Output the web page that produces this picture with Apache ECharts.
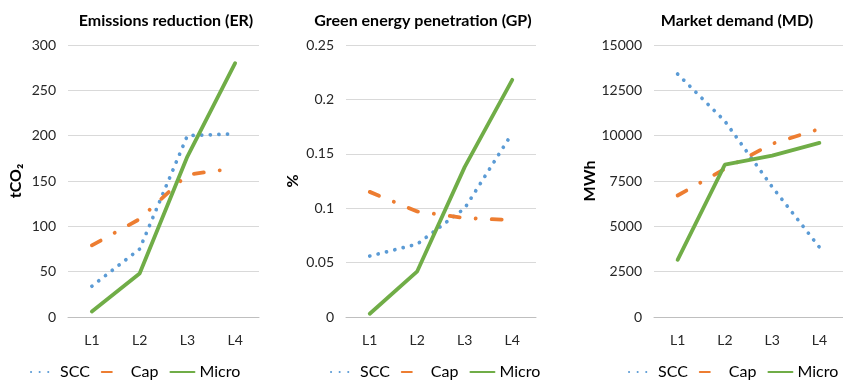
<!DOCTYPE html>
<html>
<head>
<meta charset="utf-8">
<script src="https://cdn.jsdelivr.net/npm/echarts@6/dist/echarts.min.js"></script>
<style>
html,body{margin:0;padding:0;background:#fff;}
#c{width:843px;height:385px;}
</style>
</head>
<body>
<div id="c"></div>
<script>
var categories = ['L1', 'L2', 'L3', 'L4'];
var seriesNames = ['SCC', 'Cap', 'Micro'];

var erSCC = [34, 75, 200, 202];
var erCap = [79, 108, 157, 164];
var erMicro = [6, 48, 177, 280];

var gpSCC = [0.056, 0.067, 0.1, 0.169];
var gpCap = [0.115, 0.097, 0.091, 0.089];
var gpMicro = [0.003, 0.042, 0.138, 0.218];

var mdSCC = [13400, 10800, 7180, 3850];
var mdCap = [6700, 8170, 9550, 10370];
var mdMicro = [3150, 8400, 8900, 9600];

var titles = ['Emissions reduction (ER)', 'Green energy penetration (GP)', 'Market demand (MD)'];
var yNames = ['tCO\u2082', '%', 'MWh'];
var yMax = [300, 0.25, 15000];
var yInterval = [50, 0.05, 2500];

var FONT = 'Lato, "Open Sans", sans-serif';
var gridLeft = [68, 346, 654];
var gridWidth = [191, 190, 194];
var nameGaps = [44, 45, 56];
var titleX = [161, 418, 732];
var legendLeft = [30, 330, 628];

var dataSets = [[erSCC, erCap, erMicro], [gpSCC, gpCap, gpMicro], [mdSCC, mdCap, mdMicro]];

var styles = [
  {color: '#5B9BD5', width: 3.7, type: [0.1, 8.5], cap: 'round'},
  {color: '#ED7D31', width: 3.8, type: [10, 16, 0.1, 16], cap: 'round'},
  {color: '#70AD47', width: 3.8, type: 'solid', cap: 'round'}
];

var option = {
  animation: false,
  backgroundColor: '#fff',
  title: [], legend: [], grid: [], xAxis: [], yAxis: [], series: []
};

for (var i = 0; i < 3; i++) {
  option.title.push({
    text: titles[i], left: titleX[i], top: 8, textAlign: 'center',
    textStyle: {fontFamily: FONT, fontSize: 16, fontWeight: 'bold', color: '#000'}
  });
  option.grid.push({left: gridLeft[i], top: 45, width: gridWidth[i], height: 272});
  option.xAxis.push({
    type: 'category', gridIndex: i, data: categories, boundaryGap: true,
    axisLine: {lineStyle: {color: '#BFBFBF', width: 1}},
    axisTick: {show: false},
    axisLabel: {fontFamily: FONT, fontSize: 14, color: '#262626', margin: 16}
  });
  option.yAxis.push({
    type: 'value', gridIndex: i, min: 0, max: yMax[i], interval: yInterval[i],
    name: yNames[i], nameLocation: 'middle', nameRotate: 90, nameGap: nameGaps[i],
    nameTextStyle: {fontFamily: FONT, fontSize: 16, fontWeight: 'bold', color: '#000'},
    axisLine: {show: false}, axisTick: {show: false},
    splitLine: {lineStyle: {color: '#D9D9D9', width: 1}},
    axisLabel: {fontFamily: FONT, fontSize: 14, color: '#262626', margin: 12,
      formatter: function (v) { return String(v); }}
  });
  option.legend.push({
    data: seriesNames, left: legendLeft[i], top: 364, padding: 0,
    itemWidth: 24, itemHeight: 8, itemGap: 11, width: 230,
    itemStyle: {opacity: 0},
    textStyle: {fontFamily: FONT, fontSize: 16, color: '#000'}
  });
  for (var s = 0; s < 3; s++) {
    option.series.push({
      type: 'line', name: seriesNames[s], xAxisIndex: i, yAxisIndex: i,
      data: dataSets[i][s], symbol: 'none', z: 2 + s,
      lineStyle: styles[s], itemStyle: {color: styles[s].color}
    });
  }
}

var chart = echarts.init(document.getElementById('c'), null, {renderer: 'canvas'});
chart.setOption(option);
</script>
</body>
</html>
